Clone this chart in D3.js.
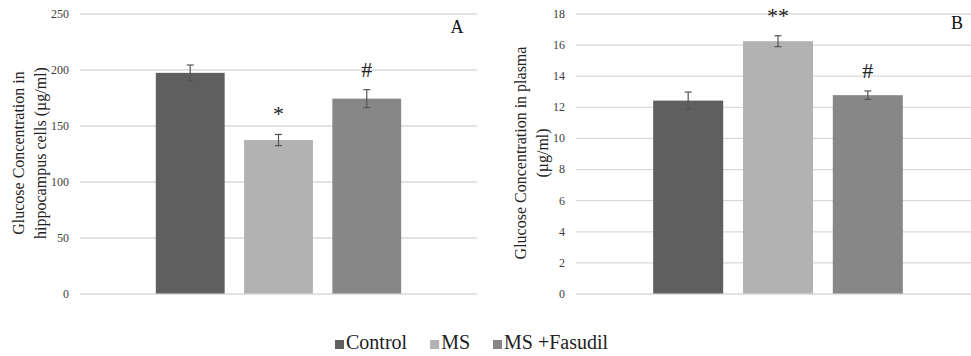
<!DOCTYPE html>
<html>
<head>
<meta charset="utf-8">
<script src="https://cdn.jsdelivr.net/npm/d3@7"></script>
<style>
  body { margin: 0; background: #fff; }
  svg { display: block; }
  svg text { font-family: "Liberation Serif", "DejaVu Serif", serif; }
</style>
</head>
<body>
<svg id="chart" width="971" height="356"></svg>
<script>
var groups = ["Control", "MS", "MS +Fasudil"];
var colors = ["#5f5f5f", "#b2b2b2", "#878787"];

// panel A: hippocampus cells
var valuesA = [197, 137, 174];
var errorsA = [7, 5, 8];
var marksA = ["", "*", "#"];
var ticksA = [0, 50, 100, 150, 200, 250];

// panel B: plasma
var valuesB = [12.4, 16.22, 12.75];
var errorsB = [0.55, 0.35, 0.27];
var marksB = ["", "**", "#"];
var ticksB = [0, 2, 4, 6, 8, 10, 12, 14, 16, 18];

var svg = d3.select("#chart");

function drawPanel(opts) {
  var g = svg.append("g");
  var w = opts.x1 - opts.x0;

  var y = d3.scaleLinear()
    .domain([0, d3.max(opts.ticks)])
    .range([293.5, 13.5]);

  // the three bars sit as one cluster in the middle of the plot
  var outer = d3.scaleBand()
    .domain(["all"])
    .range([opts.x0, opts.x1])
    .paddingInner(0)
    .paddingOuter(0.309);

  var x = d3.scaleBand()
    .domain(groups)
    .range([outer("all"), outer("all") + outer.bandwidth()])
    .paddingInner(0.22);

  var axis = g.append("g")
    .attr("transform", "translate(" + opts.x0 + ",0)")
    .call(d3.axisLeft(y).tickValues(opts.ticks).tickSize(-w).tickPadding(11));

  axis.attr("font-family", null);
  axis.select(".domain").remove();
  axis.selectAll(".tick line")
    .attr("stroke", "#d9d9d9")
    .attr("stroke-width", 1.3);
  axis.selectAll(".tick text")
    .attr("fill", "#404040")
    .attr("font-size", "12px");

  var rows = groups.map(function(name, i) {
    return { name: name, value: opts.values[i], err: opts.errors[i], mark: opts.marks[i], color: colors[i] };
  });

  g.selectAll("rect.bar")
    .data(rows)
    .enter()
    .append("rect")
    .attr("class", "bar")
    .attr("x", function(d) { return x(d.name); })
    .attr("y", function(d) { return y(d.value); })
    .attr("width", x.bandwidth())
    .attr("height", function(d) { return y(0) - y(d.value); })
    .attr("fill", function(d) { return d.color; });

  var err = g.selectAll("g.err")
    .data(rows)
    .enter()
    .append("g")
    .attr("class", "err")
    .attr("stroke", "#555")
    .attr("stroke-width", 1.2);

  var cx = function(d) { return x(d.name) + x.bandwidth() / 2; };

  err.append("line")
    .attr("x1", cx).attr("x2", cx)
    .attr("y1", function(d) { return y(d.value + d.err); })
    .attr("y2", function(d) { return y(d.value - d.err); });
  err.append("line")
    .attr("x1", function(d) { return cx(d) - 3.5; })
    .attr("x2", function(d) { return cx(d) + 3.5; })
    .attr("y1", function(d) { return y(d.value + d.err); })
    .attr("y2", function(d) { return y(d.value + d.err); });
  err.append("line")
    .attr("x1", function(d) { return cx(d) - 3.5; })
    .attr("x2", function(d) { return cx(d) + 3.5; })
    .attr("y1", function(d) { return y(d.value - d.err); })
    .attr("y2", function(d) { return y(d.value - d.err); });

  g.selectAll("text.mark")
    .data(rows.filter(function(d) { return d.mark; }))
    .enter()
    .append("text")
    .attr("class", "mark")
    .attr("x", cx)
    .attr("y", function(d) { return y(d.value + d.err) - 13; })
    .attr("text-anchor", "middle")
    .attr("font-size", "22px")
    .attr("fill", "#222")
    .text(function(d) { return d.mark; });

  g.append("text")
    .attr("x", opts.letterX)
    .attr("y", opts.letterY)
    .attr("text-anchor", "middle")
    .attr("font-size", "18px")
    .attr("fill", "#111")
    .text(opts.letter);

  var title = g.append("text")
    .attr("transform", "translate(" + opts.titleX + ",153) rotate(-90)")
    .attr("text-anchor", "middle")
    .attr("font-size", "16px")
    .attr("fill", "#222");

  opts.title.forEach(function(line, i) {
    title.append("tspan")
      .attr("x", 0)
      .attr("dy", i === 0 ? "0.35em" : "1.38em")
      .text(line);
  });
}

drawPanel({
  x0: 80, x1: 477,
  values: valuesA, errors: errorsA, marks: marksA, ticks: ticksA,
  letter: "A", letterX: 457, letterY: 33,
  titleX: 18,
  title: ["Glucose Concentration in", "hippocampus cells (µg/ml)"]
});

drawPanel({
  x0: 576, x1: 980,
  values: valuesB, errors: errorsB, marks: marksB, ticks: ticksB,
  letter: "B", letterX: 957, letterY: 29,
  titleX: 520,
  title: ["Glucose Concentration in plasma", "(µg/ml)"]
});

// legend along the bottom
var legend = svg.append("g").attr("transform", "translate(335,0)");
var offset = 0;
groups.forEach(function(name, i) {
  var item = legend.append("g").attr("transform", "translate(" + offset + ",0)");
  item.append("rect")
    .attr("x", 0).attr("y", 340)
    .attr("width", 9).attr("height", 9)
    .attr("fill", colors[i]);
  var t = item.append("text")
    .attr("x", 11).attr("y", 348.5)
    .attr("font-size", "20px")
    .attr("fill", "#222")
    .text(name);
  offset += 11 + t.node().getComputedTextLength() + 23;
});
</script>
</body>
</html>
